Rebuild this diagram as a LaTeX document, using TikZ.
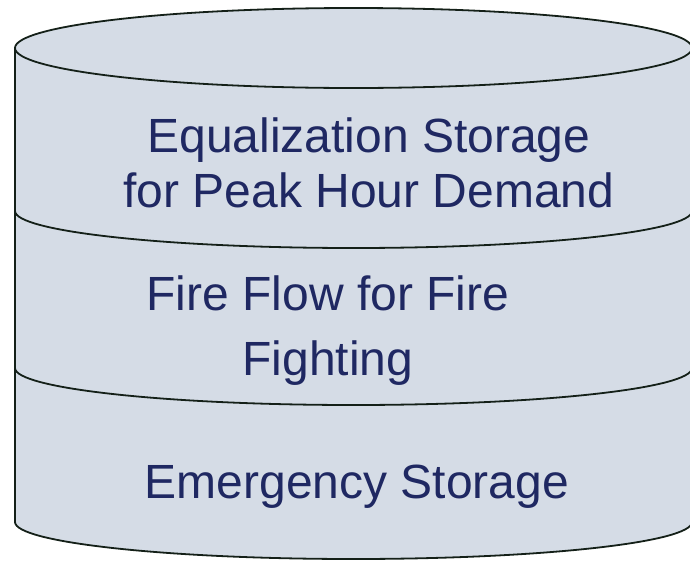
\documentclass[tikz,border=0pt]{standalone}
\usepackage{fontspec}
\setmainfont{Liberation Sans}
\definecolor{tankfill}{HTML}{D5DCE6}
\definecolor{tanktext}{HTML}{1F2862}
\definecolor{tankline}{HTML}{142018}
\tikzstyle{rim} = [draw=tankline,line width=1.8pt]
\tikzstyle{lbl} = [text=tanktext,align=center,inner sep=0,anchor=base]

\begin{document}
\begin{tikzpicture}[x=1pt,y=1pt]
    \useasboundingbox (0,0) rectangle (690,-560);

    % tank body
    \fill[tankfill] (15,-48) -- (15,-522) arc[start angle=180,end angle=360,x radius=338.5,y radius=37] -- (692,-48) -- cycle;
    \draw[rim] (15,-48) -- (15,-522) arc[start angle=180,end angle=360,x radius=338.5,y radius=37] -- (692,-48);
    \draw[rim,fill=tankfill] (353.5,-48) ellipse[x radius=338.5,y radius=40];

    % levels
    \draw[rim] (15,-211) arc[start angle=180,end angle=360,x radius=338.5,y radius=37];
    \draw[rim] (15,-368) arc[start angle=180,end angle=360,x radius=338.5,y radius=37];

    % base anchor = last line
    \node[lbl,font=\fontsize{48}{55}\selectfont] (equal) at (369,-207) {Equalization Storage\\for Peak Hour Demand};
    \node[lbl,font=\fontsize{48}{65}\selectfont] (fire) at (328,-375) {Fire Flow for Fire\\Fighting};
    \node[lbl,font=\fontsize{48}{55}\selectfont] (emerg) at (357,-498) {Emergency Storage};

\end{tikzpicture}
\end{document}
